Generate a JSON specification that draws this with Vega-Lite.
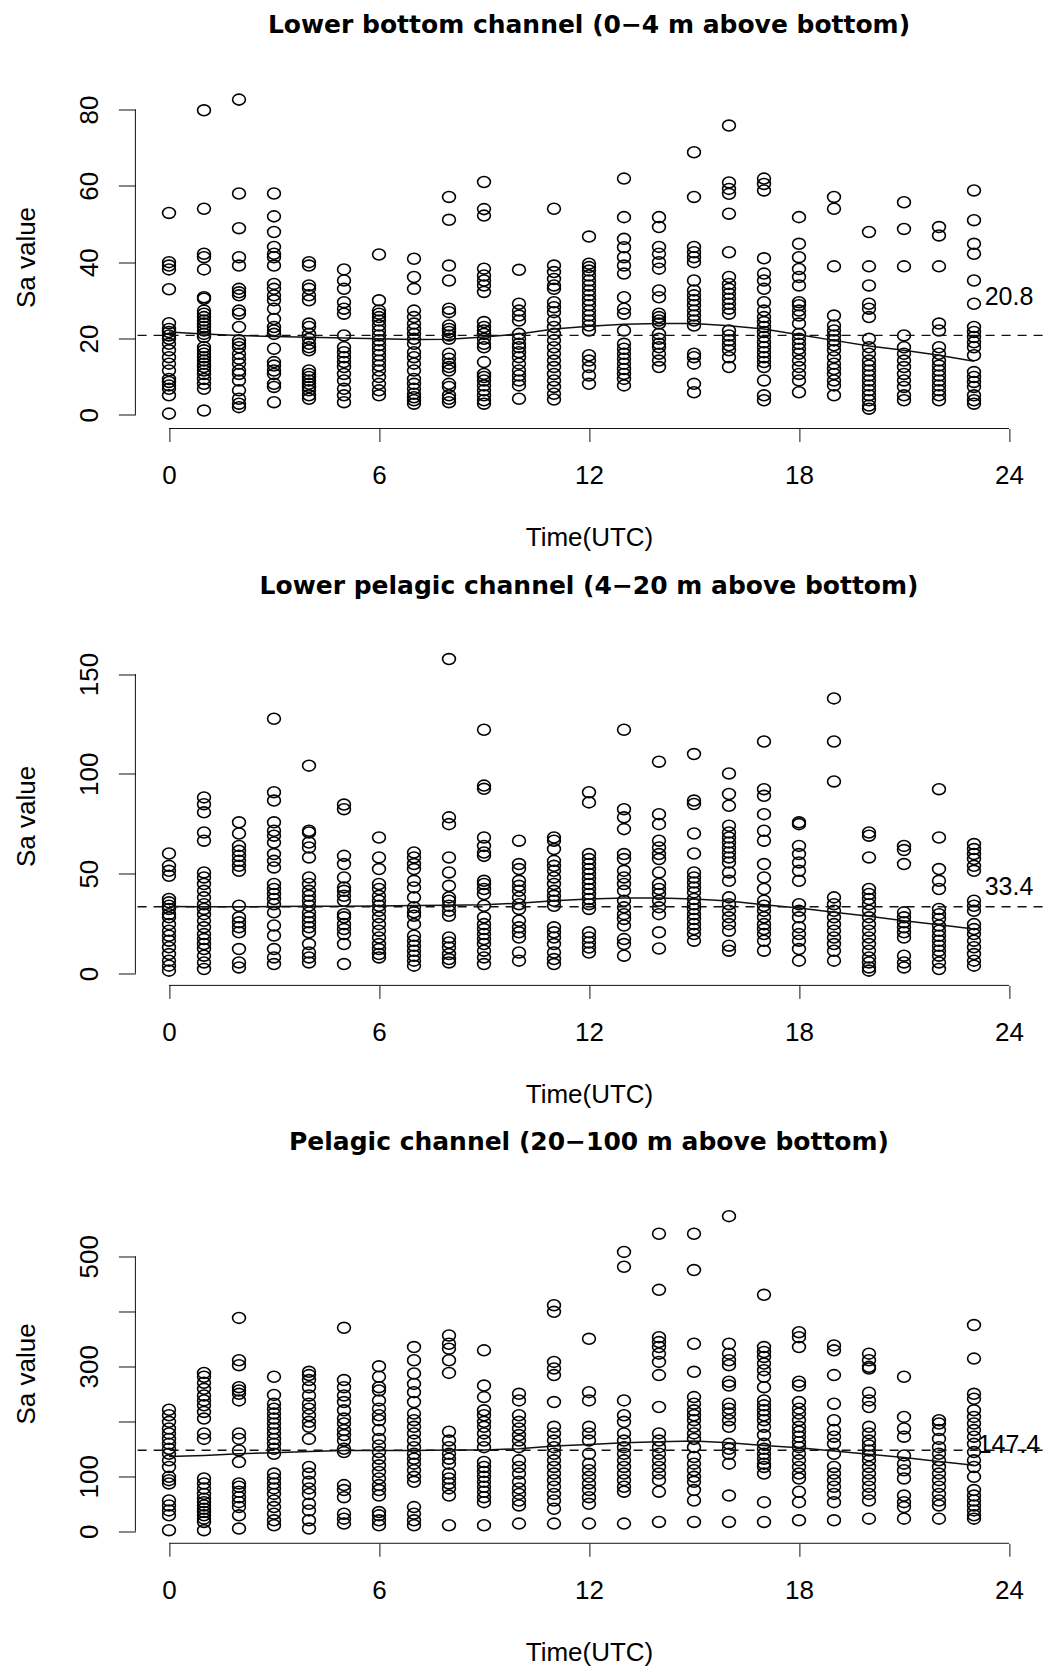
{
"$schema": "https://vega.github.io/schema/vega-lite/v6.json",
"background": "white",
"padding": {"left": 12.4, "top": 12.5, "right": 0, "bottom": 0},
"bounds": "flush",
"spacing": 218,
"config": {
  "view": {"stroke": null},
  "axis": {"domain": false, "grid": false, "tickColor": "#111", "tickWidth": 1, "labelFont": "Liberation Sans", "labelFontSize": 26, "labelColor": "#000", "titleFont": "Liberation Sans", "titleFontSize": 26, "titleFontWeight": "normal", "titleColor": "#000", "labelFlush": false, "labelOverlap": false},
  "axisX": {"tickSize": 13, "labelPadding": 21, "titleY": 109, "titleBaseline": "middle"},
  "axisY": {"tickSize": 17, "labelAngle": 270, "labelAlign": "center", "labelBaseline": "middle", "labelPadding": 29, "titleX": -109, "titleBaseline": "middle", "titleAngle": 270},
  "title": {"font": "DejaVu Sans", "fontSize": 25, "fontWeight": "bold", "color": "#000", "anchor": "middle", "baseline": "alphabetic", "offset": 48}
},
"datasets": {
"p1": [
{"h":0,"v":52.9},{"h":0,"v":40},{"h":0,"v":39.1},{"h":0,"v":38.1},{"h":0,"v":32.9},{"h":0,"v":24},{"h":0,"v":22.5},{"h":0,"v":21.7},{"h":0,"v":20.8},{"h":0,"v":19.9},{"h":0,"v":18.6},{"h":0,"v":16.9},{"h":0,"v":15.1},{"h":0,"v":13.4},{"h":0,"v":11.6},{"h":0,"v":9.4},{"h":0,"v":8.6},{"h":0,"v":7.7},{"h":0,"v":6.8},{"h":0,"v":5.1},{"h":0,"v":0.3},
{"h":1,"v":79.8},{"h":1,"v":54},{"h":1,"v":42.2},{"h":1,"v":41.3},{"h":1,"v":38.1},{"h":1,"v":30.8},{"h":1,"v":30.4},{"h":1,"v":27.3},{"h":1,"v":26.5},{"h":1,"v":25.6},{"h":1,"v":24.7},{"h":1,"v":23.9},{"h":1,"v":23},{"h":1,"v":22.1},{"h":1,"v":21.2},{"h":1,"v":20.4},{"h":1,"v":17.7},{"h":1,"v":16.9},{"h":1,"v":16},{"h":1,"v":15.1},{"h":1,"v":14.2},{"h":1,"v":13.4},{"h":1,"v":12.5},{"h":1,"v":11.6},{"h":1,"v":10.7},{"h":1,"v":9.4},{"h":1,"v":8.1},{"h":1,"v":6.8},{"h":1,"v":1.1},
{"h":2,"v":82.6},{"h":2,"v":58},{"h":2,"v":48.9},{"h":2,"v":41.3},{"h":2,"v":39.1},{"h":2,"v":33},{"h":2,"v":32.1},{"h":2,"v":31.3},{"h":2,"v":27.3},{"h":2,"v":26.5},{"h":2,"v":23},{"h":2,"v":19.5},{"h":2,"v":18.6},{"h":2,"v":17.7},{"h":2,"v":16},{"h":2,"v":14.7},{"h":2,"v":13.4},{"h":2,"v":11.6},{"h":2,"v":10.7},{"h":2,"v":9},{"h":2,"v":6.4},{"h":2,"v":4.2},{"h":2,"v":2.9},{"h":2,"v":2},
{"h":3,"v":58},{"h":3,"v":52},{"h":3,"v":47.9},{"h":3,"v":44},{"h":3,"v":42.2},{"h":3,"v":41.3},{"h":3,"v":39.1},{"h":3,"v":34.3},{"h":3,"v":33},{"h":3,"v":31.3},{"h":3,"v":30},{"h":3,"v":27.8},{"h":3,"v":25.1},{"h":3,"v":23},{"h":3,"v":22.1},{"h":3,"v":21.2},{"h":3,"v":17.3},{"h":3,"v":13.8},{"h":3,"v":12.9},{"h":3,"v":11.6},{"h":3,"v":10.7},{"h":3,"v":8.1},{"h":3,"v":7.3},{"h":3,"v":3.3},
{"h":4,"v":40},{"h":4,"v":39.1},{"h":4,"v":33.9},{"h":4,"v":33},{"h":4,"v":31.3},{"h":4,"v":30},{"h":4,"v":23.9},{"h":4,"v":23},{"h":4,"v":21.2},{"h":4,"v":19.9},{"h":4,"v":18.6},{"h":4,"v":17.7},{"h":4,"v":16.9},{"h":4,"v":11.6},{"h":4,"v":10.7},{"h":4,"v":9.9},{"h":4,"v":9},{"h":4,"v":8.1},{"h":4,"v":7.3},{"h":4,"v":6.4},{"h":4,"v":5.1},{"h":4,"v":4.2},
{"h":5,"v":38.1},{"h":5,"v":35.2},{"h":5,"v":33},{"h":5,"v":29.5},{"h":5,"v":27.8},{"h":5,"v":26.5},{"h":5,"v":20.8},{"h":5,"v":17.7},{"h":5,"v":16.4},{"h":5,"v":15.1},{"h":5,"v":13.8},{"h":5,"v":12.5},{"h":5,"v":10.7},{"h":5,"v":9},{"h":5,"v":6.8},{"h":5,"v":5.1},{"h":5,"v":3.3},
{"h":6,"v":42},{"h":6,"v":30},{"h":6,"v":27.3},{"h":6,"v":26.5},{"h":6,"v":25.6},{"h":6,"v":24.7},{"h":6,"v":23.4},{"h":6,"v":22.1},{"h":6,"v":20.8},{"h":6,"v":19.5},{"h":6,"v":18.2},{"h":6,"v":16.9},{"h":6,"v":15.6},{"h":6,"v":14.2},{"h":6,"v":12.9},{"h":6,"v":11.6},{"h":6,"v":9.9},{"h":6,"v":8.1},{"h":6,"v":6.4},{"h":6,"v":5.1},
{"h":7,"v":40.9},{"h":7,"v":36.1},{"h":7,"v":33},{"h":7,"v":27.3},{"h":7,"v":25.6},{"h":7,"v":23.9},{"h":7,"v":22.5},{"h":7,"v":21.2},{"h":7,"v":19.9},{"h":7,"v":18.6},{"h":7,"v":16.4},{"h":7,"v":15.1},{"h":7,"v":13.4},{"h":7,"v":11.6},{"h":7,"v":9.4},{"h":7,"v":8.1},{"h":7,"v":6.8},{"h":7,"v":5.5},{"h":7,"v":4.6},{"h":7,"v":3.8},{"h":7,"v":2.9},
{"h":8,"v":57.1},{"h":8,"v":51.1},{"h":8,"v":39.1},{"h":8,"v":35.2},{"h":8,"v":27.8},{"h":8,"v":26.9},{"h":8,"v":23.4},{"h":8,"v":22.5},{"h":8,"v":21.7},{"h":8,"v":20.8},{"h":8,"v":19.9},{"h":8,"v":16},{"h":8,"v":14.7},{"h":8,"v":13.4},{"h":8,"v":12.5},{"h":8,"v":11.6},{"h":8,"v":8.1},{"h":8,"v":7.3},{"h":8,"v":5.1},{"h":8,"v":4.2},{"h":8,"v":3.3},
{"h":9,"v":61},{"h":9,"v":53.9},{"h":9,"v":52.2},{"h":9,"v":38.3},{"h":9,"v":36.5},{"h":9,"v":35.2},{"h":9,"v":33.9},{"h":9,"v":32.2},{"h":9,"v":24.3},{"h":9,"v":23},{"h":9,"v":22.1},{"h":9,"v":21.2},{"h":9,"v":19.9},{"h":9,"v":18.6},{"h":9,"v":17.7},{"h":9,"v":13.8},{"h":9,"v":10.7},{"h":9,"v":9.9},{"h":9,"v":9},{"h":9,"v":7.7},{"h":9,"v":6.4},{"h":9,"v":5.1},{"h":9,"v":3.8},{"h":9,"v":2.9},
{"h":10,"v":38},{"h":10,"v":29.1},{"h":10,"v":27.3},{"h":10,"v":26},{"h":10,"v":24.7},{"h":10,"v":21.2},{"h":10,"v":19.9},{"h":10,"v":18.6},{"h":10,"v":17.7},{"h":10,"v":16.4},{"h":10,"v":15.1},{"h":10,"v":13.4},{"h":10,"v":11.6},{"h":10,"v":10.3},{"h":10,"v":9},{"h":10,"v":7.7},{"h":10,"v":4.2},
{"h":11,"v":54},{"h":11,"v":39.1},{"h":11,"v":37.4},{"h":11,"v":35.6},{"h":11,"v":33.9},{"h":11,"v":33},{"h":11,"v":29.5},{"h":11,"v":28.2},{"h":11,"v":26.9},{"h":11,"v":24.7},{"h":11,"v":23},{"h":11,"v":21.2},{"h":11,"v":19.5},{"h":11,"v":17.7},{"h":11,"v":16},{"h":11,"v":14.2},{"h":11,"v":12.5},{"h":11,"v":10.7},{"h":11,"v":9},{"h":11,"v":7.3},{"h":11,"v":5.5},{"h":11,"v":4},
{"h":12,"v":46.7},{"h":12,"v":39.6},{"h":12,"v":38.7},{"h":12,"v":37.8},{"h":12,"v":36.5},{"h":12,"v":35.2},{"h":12,"v":33.9},{"h":12,"v":32.6},{"h":12,"v":31.3},{"h":12,"v":30},{"h":12,"v":28.7},{"h":12,"v":27.3},{"h":12,"v":26},{"h":12,"v":24.7},{"h":12,"v":23.4},{"h":12,"v":22.1},{"h":12,"v":15.6},{"h":12,"v":14.2},{"h":12,"v":12.5},{"h":12,"v":10.3},{"h":12,"v":8.1},
{"h":13,"v":61.9},{"h":13,"v":51.8},{"h":13,"v":46.1},{"h":13,"v":43.9},{"h":13,"v":41.3},{"h":13,"v":39.1},{"h":13,"v":37},{"h":13,"v":30.8},{"h":13,"v":27.8},{"h":13,"v":26.5},{"h":13,"v":22.1},{"h":13,"v":18.6},{"h":13,"v":17.3},{"h":13,"v":16},{"h":13,"v":14.7},{"h":13,"v":13.4},{"h":13,"v":12},{"h":13,"v":10.7},{"h":13,"v":9.4},{"h":13,"v":7.7},
{"h":14,"v":51.8},{"h":14,"v":49.2},{"h":14,"v":44},{"h":14,"v":42.2},{"h":14,"v":40},{"h":14,"v":38.3},{"h":14,"v":32.6},{"h":14,"v":30.8},{"h":14,"v":26.5},{"h":14,"v":25.6},{"h":14,"v":24.7},{"h":14,"v":23.9},{"h":14,"v":21.2},{"h":14,"v":19.9},{"h":14,"v":18.6},{"h":14,"v":17.7},{"h":14,"v":16},{"h":14,"v":14.2},{"h":14,"v":12.5},
{"h":15,"v":68.8},{"h":15,"v":57.1},{"h":15,"v":44},{"h":15,"v":42.6},{"h":15,"v":41.3},{"h":15,"v":40},{"h":15,"v":35.2},{"h":15,"v":32.6},{"h":15,"v":31.3},{"h":15,"v":30},{"h":15,"v":28.7},{"h":15,"v":27.3},{"h":15,"v":26},{"h":15,"v":24.7},{"h":15,"v":23.4},{"h":15,"v":16},{"h":15,"v":15.1},{"h":15,"v":13.4},{"h":15,"v":8.1},{"h":15,"v":5.9},
{"h":16,"v":75.8},{"h":16,"v":60.9},{"h":16,"v":59.2},{"h":16,"v":57.9},{"h":16,"v":52.7},{"h":16,"v":42.6},{"h":16,"v":36.1},{"h":16,"v":34.3},{"h":16,"v":33},{"h":16,"v":31.7},{"h":16,"v":30.4},{"h":16,"v":29.1},{"h":16,"v":27.8},{"h":16,"v":26.5},{"h":16,"v":22.1},{"h":16,"v":20.8},{"h":16,"v":19.5},{"h":16,"v":18.2},{"h":16,"v":16.9},{"h":16,"v":15.1},{"h":16,"v":12.5},
{"h":17,"v":61.9},{"h":17,"v":60.5},{"h":17,"v":58.8},{"h":17,"v":41},{"h":17,"v":37},{"h":17,"v":35.2},{"h":17,"v":33},{"h":17,"v":29.5},{"h":17,"v":27.3},{"h":17,"v":25.6},{"h":17,"v":24.3},{"h":17,"v":23},{"h":17,"v":21.7},{"h":17,"v":20.4},{"h":17,"v":19},{"h":17,"v":17.7},{"h":17,"v":16.4},{"h":17,"v":15.1},{"h":17,"v":13.8},{"h":17,"v":12.5},{"h":17,"v":9},{"h":17,"v":5.1},{"h":17,"v":3.8},
{"h":18,"v":51.8},{"h":18,"v":44.8},{"h":18,"v":41.3},{"h":18,"v":38.2},{"h":18,"v":36.1},{"h":18,"v":33.9},{"h":18,"v":29.5},{"h":18,"v":28.7},{"h":18,"v":27.3},{"h":18,"v":26},{"h":18,"v":23.9},{"h":18,"v":21.2},{"h":18,"v":19.9},{"h":18,"v":18.6},{"h":18,"v":17.3},{"h":18,"v":16},{"h":18,"v":14.2},{"h":18,"v":12.5},{"h":18,"v":10.7},{"h":18,"v":9},{"h":18,"v":5.9},
{"h":19,"v":57.1},{"h":19,"v":54},{"h":19,"v":38.9},{"h":19,"v":26},{"h":19,"v":23.4},{"h":19,"v":22.1},{"h":19,"v":20.8},{"h":19,"v":19.5},{"h":19,"v":18.2},{"h":19,"v":16.9},{"h":19,"v":15.1},{"h":19,"v":13.4},{"h":19,"v":12},{"h":19,"v":10.7},{"h":19,"v":9},{"h":19,"v":7.7},{"h":19,"v":5.1},
{"h":20,"v":47.9},{"h":20,"v":38.9},{"h":20,"v":33.9},{"h":20,"v":29.1},{"h":20,"v":27.8},{"h":20,"v":25.6},{"h":20,"v":19.9},{"h":20,"v":17.7},{"h":20,"v":16},{"h":20,"v":14.2},{"h":20,"v":12.9},{"h":20,"v":11.6},{"h":20,"v":10.3},{"h":20,"v":9},{"h":20,"v":7.7},{"h":20,"v":6.4},{"h":20,"v":5.1},{"h":20,"v":3.8},{"h":20,"v":2.4},{"h":20,"v":1.6},
{"h":21,"v":55.7},{"h":21,"v":48.7},{"h":21,"v":38.9},{"h":21,"v":20.8},{"h":21,"v":17.7},{"h":21,"v":16},{"h":21,"v":14.2},{"h":21,"v":12.5},{"h":21,"v":10.7},{"h":21,"v":9},{"h":21,"v":7.3},{"h":21,"v":5.1},{"h":21,"v":3.8},
{"h":22,"v":49.2},{"h":22,"v":47},{"h":22,"v":38.9},{"h":22,"v":23.9},{"h":22,"v":22.1},{"h":22,"v":17.7},{"h":22,"v":16},{"h":22,"v":14.2},{"h":22,"v":12.9},{"h":22,"v":11.6},{"h":22,"v":10.3},{"h":22,"v":9},{"h":22,"v":7.7},{"h":22,"v":6.4},{"h":22,"v":5.1},{"h":22,"v":3.8},
{"h":23,"v":58.8},{"h":23,"v":51},{"h":23,"v":44.8},{"h":23,"v":42.2},{"h":23,"v":35.2},{"h":23,"v":29.1},{"h":23,"v":23},{"h":23,"v":21.7},{"h":23,"v":20.4},{"h":23,"v":19},{"h":23,"v":17.7},{"h":23,"v":15.6},{"h":23,"v":11.2},{"h":23,"v":9.9},{"h":23,"v":8.6},{"h":23,"v":7.3},{"h":23,"v":5.1},{"h":23,"v":3.8},{"h":23,"v":2.9}
],
"p2": [
{"h":0,"v":60.1},{"h":0,"v":53.9},{"h":0,"v":51.4},{"h":0,"v":48.9},{"h":0,"v":37.3},{"h":0,"v":35.6},{"h":0,"v":33.9},{"h":0,"v":32.3},{"h":0,"v":29.7},{"h":0,"v":28.1},{"h":0,"v":24.7},{"h":0,"v":21.4},{"h":0,"v":18.9},{"h":0,"v":16.4},{"h":0,"v":13.1},{"h":0,"v":9.7},{"h":0,"v":6.4},{"h":0,"v":3.9},{"h":0,"v":1.4},
{"h":1,"v":88.2},{"h":1,"v":84.8},{"h":1,"v":80.7},{"h":1,"v":70.6},{"h":1,"v":66.5},{"h":1,"v":50.6},{"h":1,"v":48.1},{"h":1,"v":44.8},{"h":1,"v":41.4},{"h":1,"v":38.1},{"h":1,"v":34.7},{"h":1,"v":32.3},{"h":1,"v":29.7},{"h":1,"v":26.4},{"h":1,"v":23.1},{"h":1,"v":19.7},{"h":1,"v":17.2},{"h":1,"v":14.7},{"h":1,"v":12.2},{"h":1,"v":8.9},{"h":1,"v":5.5},{"h":1,"v":2.2},
{"h":2,"v":75.7},{"h":2,"v":70.1},{"h":2,"v":63.9},{"h":2,"v":61.4},{"h":2,"v":58.9},{"h":2,"v":56.4},{"h":2,"v":53.9},{"h":2,"v":51.4},{"h":2,"v":33.9},{"h":2,"v":28.1},{"h":2,"v":25.6},{"h":2,"v":23.1},{"h":2,"v":20.6},{"h":2,"v":12.2},{"h":2,"v":5.5},{"h":2,"v":3},
{"h":3,"v":127.6},{"h":3,"v":90.8},{"h":3,"v":86.6},{"h":3,"v":75.7},{"h":3,"v":71.5},{"h":3,"v":69},{"h":3,"v":65.6},{"h":3,"v":59.8},{"h":3,"v":56.4},{"h":3,"v":53.1},{"h":3,"v":44.8},{"h":3,"v":42.3},{"h":3,"v":39.8},{"h":3,"v":37.3},{"h":3,"v":34.7},{"h":3,"v":30.6},{"h":3,"v":24},{"h":3,"v":19},{"h":3,"v":12.2},{"h":3,"v":8},{"h":3,"v":4.7},
{"h":4,"v":104.1},{"h":4,"v":71.5},{"h":4,"v":70.6},{"h":4,"v":65.6},{"h":4,"v":63.1},{"h":4,"v":58.1},{"h":4,"v":48.1},{"h":4,"v":44.8},{"h":4,"v":41.4},{"h":4,"v":38.9},{"h":4,"v":36.4},{"h":4,"v":33.9},{"h":4,"v":30.6},{"h":4,"v":28.1},{"h":4,"v":25.6},{"h":4,"v":23.1},{"h":4,"v":20.6},{"h":4,"v":14.7},{"h":4,"v":10.5},{"h":4,"v":8},{"h":4,"v":5.5},
{"h":5,"v":84.6},{"h":5,"v":82.3},{"h":5,"v":58.9},{"h":5,"v":54.8},{"h":5,"v":48.1},{"h":5,"v":43.1},{"h":5,"v":41.4},{"h":5,"v":38.9},{"h":5,"v":36.4},{"h":5,"v":29.7},{"h":5,"v":28.1},{"h":5,"v":24.7},{"h":5,"v":22.2},{"h":5,"v":19.7},{"h":5,"v":14.7},{"h":5,"v":4.7},
{"h":6,"v":68.1},{"h":6,"v":58.1},{"h":6,"v":52.3},{"h":6,"v":44.8},{"h":6,"v":42.3},{"h":6,"v":38.9},{"h":6,"v":36.4},{"h":6,"v":33.9},{"h":6,"v":31.4},{"h":6,"v":28.1},{"h":6,"v":24.7},{"h":6,"v":21.4},{"h":6,"v":18},{"h":6,"v":14.7},{"h":6,"v":12.2},{"h":6,"v":9.7},{"h":6,"v":8},
{"h":7,"v":60.6},{"h":7,"v":58.1},{"h":7,"v":54.8},{"h":7,"v":52.3},{"h":7,"v":46.4},{"h":7,"v":43.1},{"h":7,"v":38.1},{"h":7,"v":33.1},{"h":7,"v":30.6},{"h":7,"v":28.9},{"h":7,"v":24.7},{"h":7,"v":18.9},{"h":7,"v":16.4},{"h":7,"v":13.9},{"h":7,"v":11.4},{"h":7,"v":8.9},{"h":7,"v":6.4},{"h":7,"v":3.9},
{"h":8,"v":157.5},{"h":8,"v":78.2},{"h":8,"v":74.8},{"h":8,"v":58.1},{"h":8,"v":50.6},{"h":8,"v":43.9},{"h":8,"v":38.1},{"h":8,"v":36.4},{"h":8,"v":33.9},{"h":8,"v":31.4},{"h":8,"v":28.9},{"h":8,"v":18},{"h":8,"v":15.5},{"h":8,"v":13},{"h":8,"v":9.7},{"h":8,"v":7.2},{"h":8,"v":5.5},
{"h":9,"v":122.1},{"h":9,"v":94.1},{"h":9,"v":92.5},{"h":9,"v":68.1},{"h":9,"v":63.9},{"h":9,"v":60.6},{"h":9,"v":58.9},{"h":9,"v":46.4},{"h":9,"v":44.8},{"h":9,"v":42.3},{"h":9,"v":39.8},{"h":9,"v":33.9},{"h":9,"v":28.1},{"h":9,"v":24.7},{"h":9,"v":22.2},{"h":9,"v":19.7},{"h":9,"v":17.2},{"h":9,"v":14.7},{"h":9,"v":11.4},{"h":9,"v":8},{"h":9,"v":4.7},
{"h":10,"v":66.5},{"h":10,"v":54.8},{"h":10,"v":52.3},{"h":10,"v":46.4},{"h":10,"v":43.9},{"h":10,"v":41.4},{"h":10,"v":38.1},{"h":10,"v":34.7},{"h":10,"v":32.3},{"h":10,"v":26.4},{"h":10,"v":23.1},{"h":10,"v":20.6},{"h":10,"v":18},{"h":10,"v":10.5},{"h":10,"v":6.4},
{"h":11,"v":68.1},{"h":11,"v":66.5},{"h":11,"v":62.3},{"h":11,"v":56.4},{"h":11,"v":53.9},{"h":11,"v":51.4},{"h":11,"v":48.1},{"h":11,"v":44.8},{"h":11,"v":41.4},{"h":11,"v":38.9},{"h":11,"v":36.4},{"h":11,"v":33.9},{"h":11,"v":23.1},{"h":11,"v":20.6},{"h":11,"v":18},{"h":11,"v":14.7},{"h":11,"v":10.5},{"h":11,"v":7.2},{"h":11,"v":4.7},
{"h":12,"v":90.8},{"h":12,"v":85.7},{"h":12,"v":59.8},{"h":12,"v":57.3},{"h":12,"v":54.8},{"h":12,"v":52.3},{"h":12,"v":49.8},{"h":12,"v":47.3},{"h":12,"v":44.8},{"h":12,"v":42.3},{"h":12,"v":39.8},{"h":12,"v":37.3},{"h":12,"v":34.7},{"h":12,"v":32.3},{"h":12,"v":20.6},{"h":12,"v":18},{"h":12,"v":15.5},{"h":12,"v":13},{"h":12,"v":10.5},
{"h":13,"v":122.1},{"h":13,"v":82.3},{"h":13,"v":78.2},{"h":13,"v":72.3},{"h":13,"v":59.8},{"h":13,"v":57.3},{"h":13,"v":51.4},{"h":13,"v":48.1},{"h":13,"v":44.8},{"h":13,"v":41.4},{"h":13,"v":36.4},{"h":13,"v":33.1},{"h":13,"v":29.7},{"h":13,"v":27.3},{"h":13,"v":24},{"h":13,"v":17.2},{"h":13,"v":14.7},{"h":13,"v":8.9},
{"h":14,"v":106.1},{"h":14,"v":79.8},{"h":14,"v":74.8},{"h":14,"v":66.5},{"h":14,"v":63.1},{"h":14,"v":59.8},{"h":14,"v":57.3},{"h":14,"v":50.6},{"h":14,"v":44.8},{"h":14,"v":42.3},{"h":14,"v":39.8},{"h":14,"v":36.4},{"h":14,"v":33.1},{"h":14,"v":29.7},{"h":14,"v":20.6},{"h":14,"v":12.5},
{"h":15,"v":109.9},{"h":15,"v":86.6},{"h":15,"v":84.9},{"h":15,"v":70.1},{"h":15,"v":60.1},{"h":15,"v":50.6},{"h":15,"v":48.1},{"h":15,"v":45.6},{"h":15,"v":43.1},{"h":15,"v":40.6},{"h":15,"v":37.3},{"h":15,"v":34.7},{"h":15,"v":32.3},{"h":15,"v":29.7},{"h":15,"v":27.3},{"h":15,"v":24.7},{"h":15,"v":22.2},{"h":15,"v":19.7},{"h":15,"v":16.4},
{"h":16,"v":100.2},{"h":16,"v":89.9},{"h":16,"v":84},{"h":16,"v":74},{"h":16,"v":70.6},{"h":16,"v":68.1},{"h":16,"v":65.6},{"h":16,"v":63.1},{"h":16,"v":60.6},{"h":16,"v":58.1},{"h":16,"v":55.6},{"h":16,"v":50.6},{"h":16,"v":46.4},{"h":16,"v":38.1},{"h":16,"v":34.7},{"h":16,"v":31.4},{"h":16,"v":28.1},{"h":16,"v":24.7},{"h":16,"v":21.4},{"h":16,"v":13.9},{"h":16,"v":11.4},
{"h":17,"v":116.2},{"h":17,"v":92.3},{"h":17,"v":89},{"h":17,"v":79.8},{"h":17,"v":71.5},{"h":17,"v":66.5},{"h":17,"v":54.8},{"h":17,"v":48.1},{"h":17,"v":42.3},{"h":17,"v":36.4},{"h":17,"v":33.9},{"h":17,"v":31.4},{"h":17,"v":28.1},{"h":17,"v":24.7},{"h":17,"v":22.2},{"h":17,"v":19.7},{"h":17,"v":16.4},{"h":17,"v":11.4},
{"h":18,"v":75.7},{"h":18,"v":74.8},{"h":18,"v":63.9},{"h":18,"v":59.8},{"h":18,"v":55.6},{"h":18,"v":51.4},{"h":18,"v":46.4},{"h":18,"v":34.7},{"h":18,"v":31.4},{"h":18,"v":28.1},{"h":18,"v":23.1},{"h":18,"v":19.7},{"h":18,"v":16.4},{"h":18,"v":12.2},{"h":18,"v":6.4},
{"h":19,"v":137.8},{"h":19,"v":116.2},{"h":19,"v":96.2},{"h":19,"v":38.1},{"h":19,"v":34.7},{"h":19,"v":31.4},{"h":19,"v":28.1},{"h":19,"v":24.7},{"h":19,"v":21.4},{"h":19,"v":18},{"h":19,"v":14.7},{"h":19,"v":11.4},{"h":19,"v":6.4},
{"h":20,"v":70.6},{"h":20,"v":69},{"h":20,"v":58.1},{"h":20,"v":42.3},{"h":20,"v":39.8},{"h":20,"v":37.3},{"h":20,"v":34.7},{"h":20,"v":31.4},{"h":20,"v":28.1},{"h":20,"v":24.7},{"h":20,"v":21.4},{"h":20,"v":18},{"h":20,"v":14.7},{"h":20,"v":11.4},{"h":20,"v":8},{"h":20,"v":5.5},{"h":20,"v":3},{"h":20,"v":1.4},
{"h":21,"v":63.9},{"h":21,"v":61.8},{"h":21,"v":54.8},{"h":21,"v":30.6},{"h":21,"v":28.1},{"h":21,"v":25.6},{"h":21,"v":23.1},{"h":21,"v":20.6},{"h":21,"v":18},{"h":21,"v":8.9},{"h":21,"v":5.5},{"h":21,"v":3},
{"h":22,"v":92.3},{"h":22,"v":68.1},{"h":22,"v":52.3},{"h":22,"v":46.4},{"h":22,"v":42.3},{"h":22,"v":32.3},{"h":22,"v":29.7},{"h":22,"v":27.3},{"h":22,"v":24},{"h":22,"v":21.4},{"h":22,"v":18.9},{"h":22,"v":16.4},{"h":22,"v":13.9},{"h":22,"v":11.4},{"h":22,"v":8.9},{"h":22,"v":5.5},{"h":22,"v":2.2},
{"h":23,"v":64.8},{"h":23,"v":62.3},{"h":23,"v":59.8},{"h":23,"v":57.3},{"h":23,"v":53.9},{"h":23,"v":51.4},{"h":23,"v":36.4},{"h":23,"v":33.9},{"h":23,"v":31.4},{"h":23,"v":24.7},{"h":23,"v":22.2},{"h":23,"v":19.7},{"h":23,"v":16.4},{"h":23,"v":13.1},{"h":23,"v":9.7},{"h":23,"v":6.4},{"h":23,"v":3.9}
],
"p3": [
{"h":0,"v":221},{"h":0,"v":211},{"h":0,"v":199},{"h":0,"v":187},{"h":0,"v":178},{"h":0,"v":168},{"h":0,"v":159},{"h":0,"v":150},{"h":0,"v":141},{"h":0,"v":129},{"h":0,"v":117},{"h":0,"v":99},{"h":0,"v":93},{"h":0,"v":87},{"h":0,"v":56},{"h":0,"v":47},{"h":0,"v":38},{"h":0,"v":29},{"h":0,"v":2},
{"h":1,"v":288},{"h":1,"v":281},{"h":1,"v":270},{"h":1,"v":259},{"h":1,"v":247},{"h":1,"v":238},{"h":1,"v":229},{"h":1,"v":217},{"h":1,"v":205},{"h":1,"v":178},{"h":1,"v":168},{"h":1,"v":96},{"h":1,"v":87},{"h":1,"v":78},{"h":1,"v":68},{"h":1,"v":59},{"h":1,"v":53},{"h":1,"v":47},{"h":1,"v":41},{"h":1,"v":35},{"h":1,"v":29},{"h":1,"v":23},{"h":1,"v":17},{"h":1,"v":2},
{"h":2,"v":388},{"h":2,"v":311},{"h":2,"v":302},{"h":2,"v":262},{"h":2,"v":256},{"h":2,"v":250},{"h":2,"v":238},{"h":2,"v":178},{"h":2,"v":168},{"h":2,"v":147},{"h":2,"v":126},{"h":2,"v":87},{"h":2,"v":81},{"h":2,"v":72},{"h":2,"v":62},{"h":2,"v":53},{"h":2,"v":44},{"h":2,"v":29},{"h":2,"v":5},
{"h":3,"v":281},{"h":3,"v":248},{"h":3,"v":232},{"h":3,"v":223},{"h":3,"v":214},{"h":3,"v":205},{"h":3,"v":196},{"h":3,"v":187},{"h":3,"v":178},{"h":3,"v":168},{"h":3,"v":159},{"h":3,"v":150},{"h":3,"v":141},{"h":3,"v":105},{"h":3,"v":96},{"h":3,"v":87},{"h":3,"v":78},{"h":3,"v":68},{"h":3,"v":56},{"h":3,"v":44},{"h":3,"v":32},{"h":3,"v":20},{"h":3,"v":11},
{"h":4,"v":290},{"h":4,"v":284},{"h":4,"v":275},{"h":4,"v":262},{"h":4,"v":247},{"h":4,"v":232},{"h":4,"v":223},{"h":4,"v":211},{"h":4,"v":199},{"h":4,"v":190},{"h":4,"v":168},{"h":4,"v":117},{"h":4,"v":105},{"h":4,"v":90},{"h":4,"v":78},{"h":4,"v":68},{"h":4,"v":50},{"h":4,"v":38},{"h":4,"v":20},{"h":4,"v":5},
{"h":5,"v":370},{"h":5,"v":275},{"h":5,"v":262},{"h":5,"v":247},{"h":5,"v":235},{"h":5,"v":220},{"h":5,"v":205},{"h":5,"v":196},{"h":5,"v":184},{"h":5,"v":175},{"h":5,"v":165},{"h":5,"v":150},{"h":5,"v":144},{"h":5,"v":84},{"h":5,"v":75},{"h":5,"v":62},{"h":5,"v":32},{"h":5,"v":23},{"h":5,"v":14},
{"h":6,"v":300},{"h":6,"v":281},{"h":6,"v":262},{"h":6,"v":256},{"h":6,"v":238},{"h":6,"v":223},{"h":6,"v":211},{"h":6,"v":202},{"h":6,"v":184},{"h":6,"v":168},{"h":6,"v":156},{"h":6,"v":144},{"h":6,"v":132},{"h":6,"v":120},{"h":6,"v":108},{"h":6,"v":96},{"h":6,"v":84},{"h":6,"v":75},{"h":6,"v":65},{"h":6,"v":35},{"h":6,"v":29},{"h":6,"v":20},{"h":6,"v":11},
{"h":7,"v":335},{"h":7,"v":311},{"h":7,"v":287},{"h":7,"v":268},{"h":7,"v":253},{"h":7,"v":235},{"h":7,"v":214},{"h":7,"v":202},{"h":7,"v":190},{"h":7,"v":178},{"h":7,"v":165},{"h":7,"v":153},{"h":7,"v":141},{"h":7,"v":132},{"h":7,"v":123},{"h":7,"v":111},{"h":7,"v":99},{"h":7,"v":90},{"h":7,"v":44},{"h":7,"v":32},{"h":7,"v":20},{"h":7,"v":11},
{"h":8,"v":356},{"h":8,"v":341},{"h":8,"v":332},{"h":8,"v":311},{"h":8,"v":288},{"h":8,"v":181},{"h":8,"v":165},{"h":8,"v":153},{"h":8,"v":141},{"h":8,"v":132},{"h":8,"v":123},{"h":8,"v":105},{"h":8,"v":96},{"h":8,"v":87},{"h":8,"v":78},{"h":8,"v":65},{"h":8,"v":11},
{"h":9,"v":329},{"h":9,"v":265},{"h":9,"v":244},{"h":9,"v":220},{"h":9,"v":211},{"h":9,"v":199},{"h":9,"v":190},{"h":9,"v":178},{"h":9,"v":165},{"h":9,"v":153},{"h":9,"v":126},{"h":9,"v":117},{"h":9,"v":108},{"h":9,"v":99},{"h":9,"v":90},{"h":9,"v":81},{"h":9,"v":72},{"h":9,"v":62},{"h":9,"v":53},{"h":9,"v":11},
{"h":10,"v":250},{"h":10,"v":238},{"h":10,"v":211},{"h":10,"v":199},{"h":10,"v":187},{"h":10,"v":175},{"h":10,"v":165},{"h":10,"v":153},{"h":10,"v":129},{"h":10,"v":117},{"h":10,"v":105},{"h":10,"v":90},{"h":10,"v":78},{"h":10,"v":68},{"h":10,"v":56},{"h":10,"v":47},{"h":10,"v":14},
{"h":11,"v":411},{"h":11,"v":399},{"h":11,"v":308},{"h":11,"v":296},{"h":11,"v":284},{"h":11,"v":235},{"h":11,"v":190},{"h":11,"v":178},{"h":11,"v":165},{"h":11,"v":153},{"h":11,"v":141},{"h":11,"v":129},{"h":11,"v":117},{"h":11,"v":105},{"h":11,"v":93},{"h":11,"v":81},{"h":11,"v":68},{"h":11,"v":56},{"h":11,"v":41},{"h":11,"v":14},
{"h":12,"v":350},{"h":12,"v":253},{"h":12,"v":238},{"h":12,"v":190},{"h":12,"v":178},{"h":12,"v":165},{"h":12,"v":141},{"h":12,"v":123},{"h":12,"v":111},{"h":12,"v":99},{"h":12,"v":87},{"h":12,"v":75},{"h":12,"v":62},{"h":12,"v":50},{"h":12,"v":14},
{"h":13,"v":508},{"h":13,"v":481},{"h":13,"v":238},{"h":13,"v":211},{"h":13,"v":199},{"h":13,"v":178},{"h":13,"v":165},{"h":13,"v":153},{"h":13,"v":141},{"h":13,"v":129},{"h":13,"v":117},{"h":13,"v":105},{"h":13,"v":93},{"h":13,"v":81},{"h":13,"v":72},{"h":13,"v":14},
{"h":14,"v":541},{"h":14,"v":439},{"h":14,"v":353},{"h":14,"v":344},{"h":14,"v":335},{"h":14,"v":323},{"h":14,"v":308},{"h":14,"v":284},{"h":14,"v":226},{"h":14,"v":178},{"h":14,"v":165},{"h":14,"v":153},{"h":14,"v":141},{"h":14,"v":129},{"h":14,"v":117},{"h":14,"v":105},{"h":14,"v":93},{"h":14,"v":72},{"h":14,"v":17},
{"h":15,"v":541},{"h":15,"v":475},{"h":15,"v":341},{"h":15,"v":290},{"h":15,"v":244},{"h":15,"v":232},{"h":15,"v":220},{"h":15,"v":211},{"h":15,"v":202},{"h":15,"v":190},{"h":15,"v":178},{"h":15,"v":168},{"h":15,"v":153},{"h":15,"v":135},{"h":15,"v":123},{"h":15,"v":111},{"h":15,"v":99},{"h":15,"v":90},{"h":15,"v":75},{"h":15,"v":56},{"h":15,"v":17},
{"h":16,"v":573},{"h":16,"v":341},{"h":16,"v":323},{"h":16,"v":311},{"h":16,"v":302},{"h":16,"v":272},{"h":16,"v":265},{"h":16,"v":232},{"h":16,"v":223},{"h":16,"v":214},{"h":16,"v":202},{"h":16,"v":190},{"h":16,"v":159},{"h":16,"v":150},{"h":16,"v":141},{"h":16,"v":123},{"h":16,"v":65},{"h":16,"v":17},
{"h":17,"v":430},{"h":17,"v":335},{"h":17,"v":326},{"h":17,"v":317},{"h":17,"v":305},{"h":17,"v":293},{"h":17,"v":281},{"h":17,"v":262},{"h":17,"v":238},{"h":17,"v":229},{"h":17,"v":220},{"h":17,"v":211},{"h":17,"v":202},{"h":17,"v":190},{"h":17,"v":175},{"h":17,"v":159},{"h":17,"v":150},{"h":17,"v":141},{"h":17,"v":132},{"h":17,"v":123},{"h":17,"v":117},{"h":17,"v":105},{"h":17,"v":53},{"h":17,"v":17},
{"h":18,"v":362},{"h":18,"v":353},{"h":18,"v":335},{"h":18,"v":272},{"h":18,"v":265},{"h":18,"v":235},{"h":18,"v":223},{"h":18,"v":214},{"h":18,"v":202},{"h":18,"v":190},{"h":18,"v":181},{"h":18,"v":172},{"h":18,"v":162},{"h":18,"v":153},{"h":18,"v":141},{"h":18,"v":129},{"h":18,"v":117},{"h":18,"v":105},{"h":18,"v":96},{"h":18,"v":72},{"h":18,"v":53},{"h":18,"v":20},
{"h":19,"v":338},{"h":19,"v":329},{"h":19,"v":284},{"h":19,"v":232},{"h":19,"v":202},{"h":19,"v":184},{"h":19,"v":172},{"h":19,"v":159},{"h":19,"v":141},{"h":19,"v":117},{"h":19,"v":105},{"h":19,"v":93},{"h":19,"v":81},{"h":19,"v":68},{"h":19,"v":53},{"h":19,"v":20},
{"h":20,"v":323},{"h":20,"v":311},{"h":20,"v":299},{"h":20,"v":296},{"h":20,"v":252},{"h":20,"v":238},{"h":20,"v":226},{"h":20,"v":190},{"h":20,"v":178},{"h":20,"v":165},{"h":20,"v":156},{"h":20,"v":147},{"h":20,"v":138},{"h":20,"v":129},{"h":20,"v":117},{"h":20,"v":105},{"h":20,"v":93},{"h":20,"v":81},{"h":20,"v":68},{"h":20,"v":56},{"h":20,"v":23},
{"h":21,"v":281},{"h":21,"v":208},{"h":21,"v":187},{"h":21,"v":172},{"h":21,"v":138},{"h":21,"v":123},{"h":21,"v":111},{"h":21,"v":96},{"h":21,"v":65},{"h":21,"v":53},{"h":21,"v":44},{"h":21,"v":23},
{"h":22,"v":202},{"h":22,"v":196},{"h":22,"v":184},{"h":22,"v":168},{"h":22,"v":153},{"h":22,"v":141},{"h":22,"v":129},{"h":22,"v":117},{"h":22,"v":105},{"h":22,"v":93},{"h":22,"v":81},{"h":22,"v":68},{"h":22,"v":56},{"h":22,"v":47},{"h":22,"v":23},
{"h":23,"v":375},{"h":23,"v":314},{"h":23,"v":250},{"h":23,"v":241},{"h":23,"v":220},{"h":23,"v":208},{"h":23,"v":196},{"h":23,"v":184},{"h":23,"v":172},{"h":23,"v":159},{"h":23,"v":144},{"h":23,"v":129},{"h":23,"v":117},{"h":23,"v":99},{"h":23,"v":75},{"h":23,"v":65},{"h":23,"v":56},{"h":23,"v":47},{"h":23,"v":38},{"h":23,"v":29},{"h":23,"v":23}
],
"s1": [{"h":0,"v":21.7},{"h":1,"v":21.2},{"h":2,"v":20.8},{"h":3,"v":20.5},{"h":4,"v":20.3},{"h":5,"v":20.1},{"h":6,"v":19.9},{"h":7,"v":19.7},{"h":8,"v":19.8},{"h":9,"v":20.4},{"h":10,"v":21.2},{"h":11,"v":22.5},{"h":12,"v":23.2},{"h":13,"v":23.7},{"h":14,"v":23.9},{"h":15,"v":23.9},{"h":16,"v":23.3},{"h":17,"v":22.5},{"h":18,"v":21},{"h":19,"v":19.5},{"h":20,"v":18},{"h":21,"v":16.9},{"h":22,"v":15.6},{"h":23,"v":14}],
"s2": [{"h":0,"v":33.5},{"h":1,"v":33.4},{"h":2,"v":33.4},{"h":3,"v":33.5},{"h":4,"v":33.6},{"h":5,"v":33.7},{"h":6,"v":33.8},{"h":7,"v":34},{"h":8,"v":34.2},{"h":9,"v":34.4},{"h":10,"v":35.2},{"h":11,"v":36.4},{"h":12,"v":37.3},{"h":13,"v":37.8},{"h":14,"v":37.8},{"h":15,"v":37.3},{"h":16,"v":36.3},{"h":17,"v":34.4},{"h":18,"v":32.8},{"h":19,"v":30.6},{"h":20,"v":28.6},{"h":21,"v":26.4},{"h":22,"v":24.4},{"h":23,"v":22.2}],
"s3": [{"h":0,"v":136},{"h":1,"v":138},{"h":2,"v":141},{"h":3,"v":143},{"h":4,"v":145},{"h":5,"v":147},{"h":6,"v":147},{"h":7,"v":147},{"h":8,"v":148},{"h":9,"v":148},{"h":10,"v":150},{"h":11,"v":155},{"h":12,"v":158},{"h":13,"v":161},{"h":14,"v":163},{"h":15,"v":164},{"h":16,"v":161},{"h":17,"v":156},{"h":18,"v":152},{"h":19,"v":146},{"h":20,"v":140},{"h":21,"v":134},{"h":22,"v":127},{"h":23,"v":120}]
},
"vconcat": [
{
 "width": 907.2, "height": 343,
 "title": {"text": "Lower bottom channel (0−4 m above bottom)"},
 "layer": [
  {"data": {"name": "p1"}, "mark": {"type": "point", "shape": "M -1 0 A 1 0.85 0 1 0 1 0 A 1 0.85 0 1 0 -1 0 Z", "size": 165, "filled": false, "strokeWidth": 1.6, "color": "#000", "opacity": 1},
   "encoding": {
    "x": {"field": "h", "type": "quantitative", "scale": {"domain": [-0.96, 24.96], "nice": false, "zero": false}, "axis": {"values": [0, 6, 12, 18, 24], "title": "Time(UTC)"}},
    "y": {"field": "v", "type": "quantitative", "scale": {"domain": [-3.6, 86.3], "nice": false, "zero": false}, "axis": {"values": [0, 20, 40, 60, 80], "title": "Sa value"}}}},
  {"data": {"name": "s1"}, "mark": {"type": "line", "color": "#111", "strokeWidth": 1.5}, "encoding": {"x": {"field": "h", "type": "quantitative"}, "y": {"field": "v", "type": "quantitative"}}},
  {"data": {"values": [{}]}, "mark": {"type": "rule", "color": "#111", "strokeWidth": 1.3, "strokeDash": [9, 7]}, "encoding": {"y": {"datum": 20.8}}},
  {"data": {"values": [{}]}, "mark": {"type": "rule", "color": "#111", "strokeWidth": 1}, "encoding": {"x": {"datum": -0.96}, "y": {"datum": 0}, "y2": {"datum": 80}}},
  {"data": {"values": [{}]}, "mark": {"type": "rule", "color": "#111", "strokeWidth": 1}, "encoding": {"x": {"datum": 0}, "x2": {"datum": 24}, "y": {"datum": -3.6}}},
  {"data": {"values": [{}]}, "mark": {"type": "text", "font": "Liberation Sans", "fontSize": 25, "align": "center", "baseline": "middle", "color": "#000"}, "encoding": {"x": {"datum": 24}, "y": {"datum": 30.8}, "text": {"value": "20.8"}}}
 ]
},
{
 "width": 907.2, "height": 338.9,
 "title": {"text": "Lower pelagic channel (4−20 m above bottom)"},
 "layer": [
  {"data": {"name": "p2"}, "mark": {"type": "point", "shape": "M -1 0 A 1 0.85 0 1 0 1 0 A 1 0.85 0 1 0 -1 0 Z", "size": 165, "filled": false, "strokeWidth": 1.6, "color": "#000", "opacity": 1},
   "encoding": {
    "x": {"field": "h", "type": "quantitative", "scale": {"domain": [-0.96, 24.96], "nice": false, "zero": false}, "axis": {"values": [0, 6, 12, 18, 24], "title": "Time(UTC)"}},
    "y": {"field": "v", "type": "quantitative", "scale": {"domain": [-6.0, 163.8], "nice": false, "zero": false}, "axis": {"values": [0, 50, 100, 150], "title": "Sa value"}}}},
  {"data": {"name": "s2"}, "mark": {"type": "line", "color": "#111", "strokeWidth": 1.5}, "encoding": {"x": {"field": "h", "type": "quantitative"}, "y": {"field": "v", "type": "quantitative"}}},
  {"data": {"values": [{}]}, "mark": {"type": "rule", "color": "#111", "strokeWidth": 1.3, "strokeDash": [9, 7]}, "encoding": {"y": {"datum": 33.4}}},
  {"data": {"values": [{}]}, "mark": {"type": "rule", "color": "#111", "strokeWidth": 1}, "encoding": {"x": {"datum": -0.96}, "y": {"datum": 0}, "y2": {"datum": 150}}},
  {"data": {"values": [{}]}, "mark": {"type": "rule", "color": "#111", "strokeWidth": 1}, "encoding": {"x": {"datum": 0}, "x2": {"datum": 24}, "y": {"datum": -6.0}}},
  {"data": {"values": [{}]}, "mark": {"type": "text", "font": "Liberation Sans", "fontSize": 25, "align": "center", "baseline": "middle", "color": "#000"}, "encoding": {"x": {"datum": 24}, "y": {"datum": 43.4}, "text": {"value": "33.4"}}}
 ]
},
{
 "width": 907.2, "height": 339.8,
 "title": {"text": "Pelagic channel (20−100 m above bottom)"},
 "layer": [
  {"data": {"name": "p3"}, "mark": {"type": "point", "shape": "M -1 0 A 1 0.85 0 1 0 1 0 A 1 0.85 0 1 0 -1 0 Z", "size": 165, "filled": false, "strokeWidth": 1.6, "color": "#000", "opacity": 1},
   "encoding": {
    "x": {"field": "h", "type": "quantitative", "scale": {"domain": [-0.96, 24.96], "nice": false, "zero": false}, "axis": {"values": [0, 6, 12, 18, 24], "title": "Time(UTC)"}},
    "y": {"field": "v", "type": "quantitative", "scale": {"domain": [-21.8, 596], "nice": false, "zero": false}, "axis": {"values": [0, 100, 200, 300, 400, 500], "labelExpr": "datum.value == 200 || datum.value == 400 ? '' : datum.label", "title": "Sa value"}}}},
  {"data": {"name": "s3"}, "mark": {"type": "line", "color": "#111", "strokeWidth": 1.5}, "encoding": {"x": {"field": "h", "type": "quantitative"}, "y": {"field": "v", "type": "quantitative"}}},
  {"data": {"values": [{}]}, "mark": {"type": "rule", "color": "#111", "strokeWidth": 1.3, "strokeDash": [9, 7]}, "encoding": {"y": {"datum": 147.4}}},
  {"data": {"values": [{}]}, "mark": {"type": "rule", "color": "#111", "strokeWidth": 1}, "encoding": {"x": {"datum": -0.96}, "y": {"datum": 0}, "y2": {"datum": 500}}},
  {"data": {"values": [{}]}, "mark": {"type": "rule", "color": "#111", "strokeWidth": 1}, "encoding": {"x": {"datum": 0}, "x2": {"datum": 24}, "y": {"datum": -21.8}}},
  {"data": {"values": [{}]}, "mark": {"type": "text", "font": "Liberation Sans", "fontSize": 25, "align": "center", "baseline": "middle", "color": "#000"}, "encoding": {"x": {"datum": 24}, "y": {"datum": 157.4}, "text": {"value": "147.4"}}}
 ]
}
]
}
